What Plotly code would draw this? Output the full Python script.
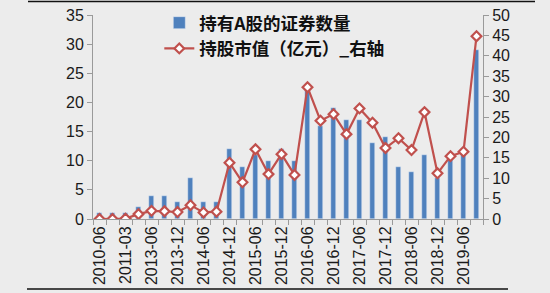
import plotly.graph_objects as go

categories = ["2010-06", "2010-12", "2011-03", "2012-12", "2013-06", "2013-09", "2013-12",
              "2014-03", "2014-06", "2014-09", "2014-12", "2015-03", "2015-06", "2015-09",
              "2015-12", "2016-03", "2016-06", "2016-09", "2016-12", "2017-03", "2017-06",
              "2017-09", "2017-12", "2018-03", "2018-06", "2018-09", "2018-12", "2019-03",
              "2019-06", "2019-09"]
securities_count = [1, 1, 1, 2, 4, 4, 3, 7, 3, 3, 12, 9, 11, 10, 12, 10, 22, 16, 19, 17, 17,
                    13, 14, 9, 8, 11, 7, 11, 12, 29]
market_value = [0, 0, 0.1, 1.2, 2.0, 1.9, 1.7, 3.4, 1.6, 1.8, 13.8, 9.0, 17.1, 11.0, 15.9, 10.8,
                32.3, 24.1, 25.7, 20.8, 27.1, 23.6, 17.4, 19.8, 16.9, 26.2, 11.2, 15.4, 16.5, 44.8]
bar_name = "持有A股的证券数量"
line_name = "持股市值（亿元）_右轴"

idx = list(range(len(categories)))
BG = "#ECECEC"
AX = "#9A9A9A"
TXT = "#1A1A1A"
FONT = "Liberation Sans, Arial, sans-serif"

fig = go.Figure()
fig.add_trace(go.Bar(x=idx, y=securities_count, name=bar_name, marker_color="#4F81BD",
                     width=0.4, yaxis="y"))
fig.add_trace(go.Scatter(x=idx, y=market_value, name=line_name, yaxis="y2", mode="lines+markers",
                         line=dict(color="#C0504D", width=2.2),
                         marker=dict(symbol="diamond", size=7.5, color="white",
                                     line=dict(color="#C0504D", width=2.2))))

fig.update_layout(
    width=550, height=293,
    margin=dict(l=93, r=67, t=15, b=74, autoexpand=False),
    paper_bgcolor=BG, plot_bgcolor=BG,
    font=dict(family=FONT, size=16, color=TXT),
    bargap=0,
    xaxis=dict(range=[-0.5, len(categories) - 0.5], tickmode="array",
               tickvals=idx[::2], ticktext=categories[::2], tickangle=-90,
               showline=True, linecolor=AX, linewidth=1, ticks="", showgrid=False,
               zeroline=False, tickfont=dict(size=16, color=TXT), automargin=False,
               minor=dict(ticks="outside", ticklen=5, tickcolor=AX, tick0=-0.5, dtick=1,
                          showgrid=False)),
    yaxis=dict(range=[0, 35], dtick=5, showline=True, linecolor=AX, linewidth=1,
               ticks="outside", ticklen=5, tickcolor=AX, showgrid=False, zeroline=False,
               tickfont=dict(size=16, color=TXT), automargin=False),
    yaxis2=dict(range=[0, 50], dtick=5, overlaying="y", side="right", showline=True,
                linecolor=AX, linewidth=1, ticks="outside", ticklen=5, tickcolor=AX,
                showgrid=False, zeroline=False, tickfont=dict(size=16, color=TXT),
                automargin=False),
    legend=dict(x=0.17, y=1.05, xanchor="left", yanchor="top", bgcolor="rgba(0,0,0,0)",
                font=dict(family="Noto Sans CJK SC", size=17.5, color="#111111", weight="bold"),
                tracegroupgap=0, itemwidth=30),
    showlegend=True,
    shapes=[
        dict(type="line", xref="paper", yref="paper", x0=-65 / 390, x1=442 / 390,
             y0=1 + 13.5 / 204, y1=1 + 13.5 / 204, line=dict(color="#111111", width=1.5)),
        dict(type="line", xref="paper", yref="paper", x0=-66 / 390, x1=415 / 390,
             y0=-70 / 204, y1=-70 / 204, line=dict(color="#111111", width=1.5)),
    ],
)

fig.write_html("out.html")
